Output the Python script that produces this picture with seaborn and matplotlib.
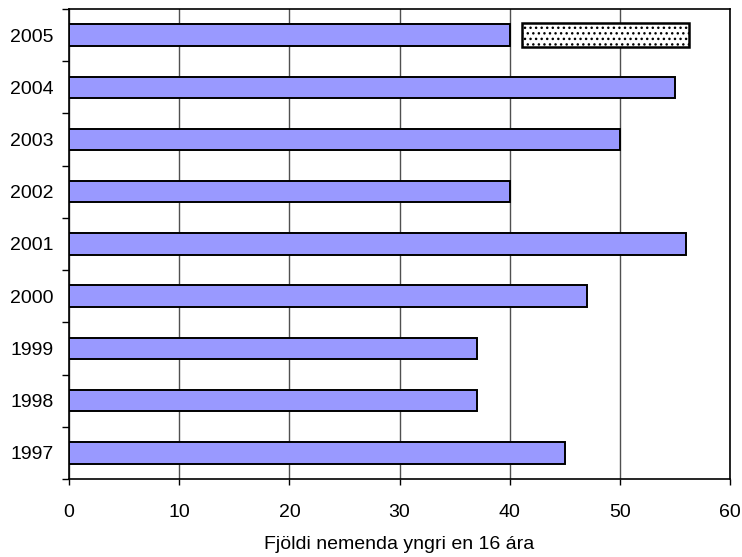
import pandas as pd
import seaborn as sns
import matplotlib.pyplot as plt

sns.set_style("white")
plt.rcParams['font.family'] = ['Liberation Sans', 'DejaVu Sans']

years = ['2005', '2004', '2003', '2002', '2001', '2000', '1999', '1998', '1997']
students = [40, 55, 50, 40, 56, 47, 37, 37, 45]

# dotted box next to the 2005 bar
box_year = '2005'
box_start = 41.1
box_end = 56.3

df = pd.DataFrame({'year': years, 'n': students})

fig = plt.figure(figsize=(7.42, 5.57), dpi=100)
ax = fig.add_axes([0.093, 0.140, 0.891, 0.844])

sns.barplot(data=df, x='n', y='year', order=years, orient='h', color='#9999FF',
            saturation=1, edgecolor='black', linewidth=1.4, width=0.41, ax=ax, zorder=3)

ax.barh(years.index(box_year), box_end - box_start, left=box_start, height=0.46,
        color='white', edgecolor='black', hatch='...', linewidth=1.8, zorder=3)

ax.set_xlim(0, 60)
ax.set_ylim(len(years) - 0.5, -0.5)
ax.set_xticks(range(0, 61, 10))
ax.xaxis.grid(True, color='#505050', linewidth=1, zorder=0)
ax.set_axisbelow(True)

ax.set_yticks(range(len(years)))
ax.set_yticks([i - 0.5 for i in range(len(years) + 1)], minor=True)
ax.tick_params(axis='y', which='major', left=True, length=0, pad=11, labelsize=14,
               labelcolor='black')
ax.tick_params(axis='y', which='minor', left=True, length=5, width=1, color='black',
               direction='out')
ax.tick_params(axis='x', bottom=True, length=4, width=1, color='black', direction='out',
               labelsize=14, pad=14, labelcolor='black')

for s in ax.spines.values():
    s.set_color('black')
    s.set_linewidth(1.2)

ax.set_ylabel('')
ax.set_xlabel('Fjöldi nemenda yngri en 16 ára', fontsize=14, labelpad=11, color='black')

fig.savefig('out.png', dpi=100)
